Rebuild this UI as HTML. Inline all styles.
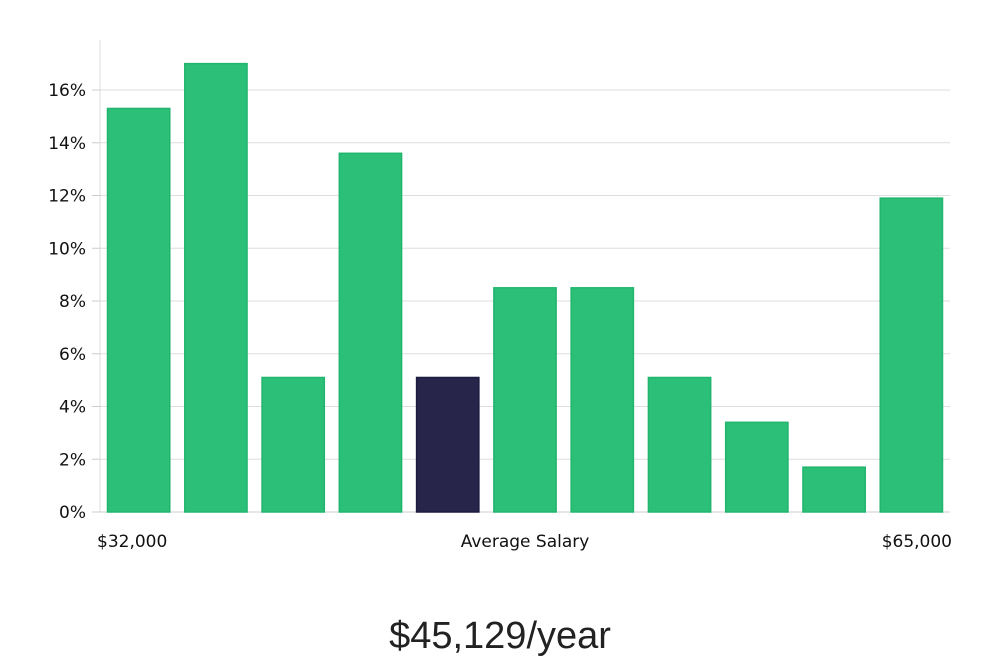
<!DOCTYPE html>
<html><head><meta charset="utf-8"><style>
html,body{margin:0;padding:0;background:#fff;}
svg{display:block;font-family:"DejaVu Sans","Liberation Sans",sans-serif;}
</style></head><body>
<svg id="chart" width="1000" height="660">
<text x="500" y="648" text-anchor="middle" font-size="38" fill="#222" font-family="'Liberation Sans',sans-serif" font-weight="300">$45,129/year</text>
</svg>
<script>
const categories=["b1","b2","b3","b4","b5","b6","b7","b8","b9","b10","b11"];
const values=[15.3,17.0,5.1,13.6,5.1,8.5,8.5,5.1,3.4,1.7,11.9];
const highlight=[false,false,false,false,true,false,false,false,false,false,false];
const yTicks=[0,2,4,6,8,10,12,14,16];
const xLabels=["$32,000","Average Salary","$65,000"];
const NS="http://www.w3.org/2000/svg";
const svg=document.getElementById('chart');
const L=100,R=950,B=512,T=40;
const y=v=>B-v*(422/16);
const band=(R-L)/categories.length;
const x=i=>L+i*band;
function mk(t,a){const e=document.createElementNS(NS,t);for(const k in a)e.setAttribute(k,a[k]);svg.appendChild(e);return e;}
let e=mk('line',{x1:L,x2:L,y1:T,y2:B,stroke:'#ddd'});


yTicks.forEach(t=>{
 const g=mk('line',{x1:L,x2:R,y1:y(t),y2:y(t),stroke:t===0?'#ccc':'#dedede'});
 
 
 const tk=mk('line',{x1:92,x2:L,y1:y(t),y2:y(t),stroke:'#ccc'});
 
 
 const tx=mk('text',{x:86,y:y(t)+6,'text-anchor':'end','font-size':17,fill:'#111'});
 tx.textContent=t+'%';
 
 
});
values.forEach((v,i)=>{
 const r=mk('rect',{x:x(i)+7.5,y:y(v),width:band-15,height:B-y(v),fill:highlight[i]?'#28254a':'#2bbf78',stroke:highlight[i]?'#1e1b40':'#22b56e','stroke-width':1.5});
 
 
});
const xl=[[97,'start'],[525,'middle'],[952,'end']];
xLabels.forEach((s,i)=>{
 const t=mk('text',{x:xl[i][0],y:547,'text-anchor':xl[i][1],'font-size':17,fill:'#111'});
 t.textContent=s;
 
 
});
</script>
</body></html>
